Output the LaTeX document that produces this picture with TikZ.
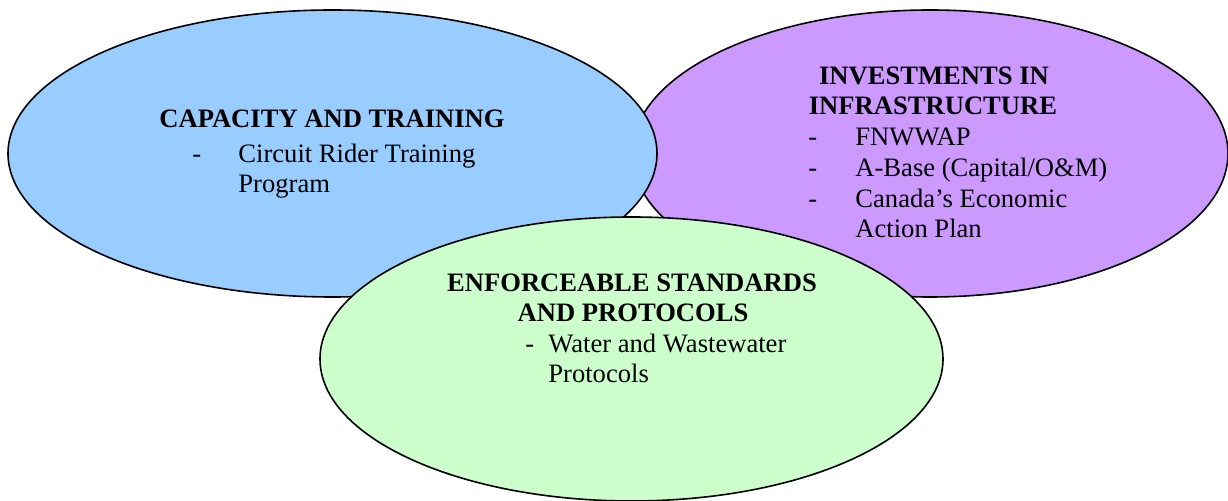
\documentclass[tikz,border=0pt]{standalone}
\usepackage{fontspec}
\setmainfont{Liberation Serif}
\usetikzlibrary{shapes.geometric}
\definecolor{capblue}{HTML}{99CCFF}
\definecolor{invpurple}{HTML}{CC99FF}
\definecolor{enfgreen}{HTML}{CCFFCC}

\begin{document}
\begin{tikzpicture}[x=0.5pt,y=-0.5pt,
                    font=\fontsize{13.3}{15}\selectfont]
  \tikzstyle{blob}=[ellipse,draw=black,line width=0.8pt,inner sep=0pt]
  \tikzstyle{head}=[font=\fontsize{13.3}{15}\selectfont\bfseries,
                    anchor=base,inner sep=0pt]
  \tikzstyle{item}=[anchor=base west,inner sep=0pt]
  \useasboundingbox (0,0) rectangle (1228,501);

  % the three circles, green on top
  \node[blob,fill=invpurple,minimum width=298pt,minimum height=143.5pt] (INV) at (930,153.5) {};
  \node[blob,fill=capblue,minimum width=324.5pt,minimum height=143.5pt] (CAP) at (332.5,153.5) {};
  \node[blob,fill=enfgreen,minimum width=311.5pt,minimum height=142pt] (ENF) at (631.5,359) {};

  % capacity and training
  \node[head] (CAPH) at (332,128) {CAPACITY AND TRAINING};
  \node[item] (CAPD) at (192,163) {-};
  \node[item] (CAPI) at (238,163) {Circuit Rider Training};
  \node[item] (CAPJ) at (238,193) {Program};

  % investments in infrastructure
  \node[head] (INVH) at (934,85) {INVESTMENTS IN};
  \node[head] (INVG) at (933,115) {INFRASTRUCTURE};
  \node[item] (INVD1) at (808,146) {-};
  \node[item] (INVI1) at (855,146) {FNWWAP};
  \node[item] (INVD2) at (808,177) {-};
  \node[item] (INVI2) at (855,177) {A-Base (Capital/O\&M)};
  \node[item] (INVD3) at (808,208) {-};
  \node[item] (INVI3) at (855,208) {Canada’s Economic};
  \node[item] (INVJ3) at (855,238) {Action Plan};

  % enforceable standards and protocols
  \node[head] (ENFH) at (632,292) {ENFORCEABLE STANDARDS};
  \node[head] (ENFG) at (633,322) {AND PROTOCOLS};
  \node[item] (ENFD) at (525,353) {-};
  \node[item] (ENFI) at (548,353) {Water and Wastewater};
  \node[item] (ENFJ) at (548,383) {Protocols};
\end{tikzpicture}
\end{document}
